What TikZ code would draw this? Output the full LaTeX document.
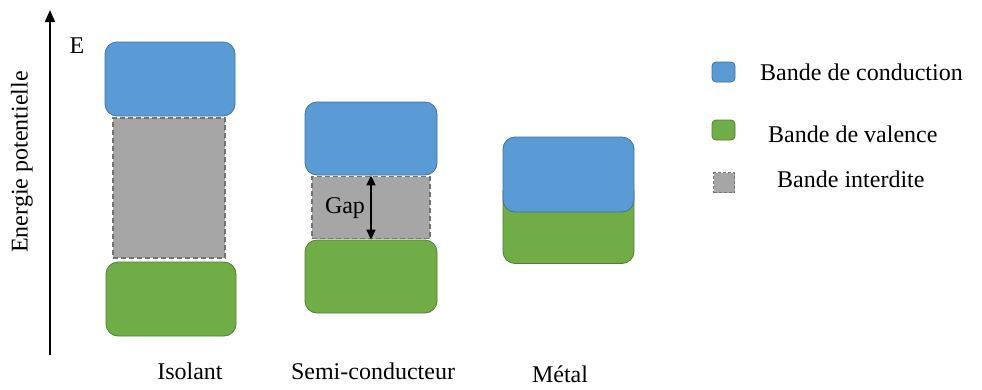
\documentclass[tikz,border=0pt]{standalone}
\usepackage{fontspec}
\setmainfont{Liberation Serif}
\usepackage{tikz}
\usetikzlibrary{arrows}
\usetikzlibrary{arrows.meta}
\usetikzlibrary{positioning}

\definecolor{cbandfill}{RGB}{91,155,213}
\definecolor{cbanddraw}{RGB}{65,113,156}
\definecolor{vbandfill}{RGB}{112,173,71}
\definecolor{vbanddraw}{RGB}{80,126,50}
\definecolor{gbandfill}{RGB}{166,166,166}
\definecolor{gbanddraw}{RGB}{115,115,115}

\begin{document}
\begin{tikzpicture}[x=1pt, y=-1pt,
    font=\fontsize{24}{28}\selectfont,
    band/.style={rectangle, rounded corners=12pt, line width=0.8pt, inner sep=0pt},
    cband/.style={band, fill=cbandfill, draw=cbanddraw},
    vband/.style={band, fill=vbandfill, draw=vbanddraw},
    gband/.style={rectangle, fill=gbandfill, draw=gbanddraw, dash pattern=on 5pt off 3pt, line width=1.2pt, inner sep=0pt},
    legtext/.style={anchor=west, inner sep=0pt}
  ]
  \useasboundingbox (0,0) rectangle (982,389);

  % axe des energies
  \coordinate (axbot) at (50,355);
  \coordinate (axtop) at (50,10);
  \draw[-{Triangle[length=12pt, width=10pt]}, line width=1.8pt] (axbot) -- (axtop);
  \node (elab) at (77,46) {E};
  \node (ylab) [rotate=90] at (22,162) {Energie potentielle};

  % isolant
  \node (ig) [gband, minimum width=112pt, minimum height=140pt] at (169,188) {};
  \node (ic) [cband, minimum width=130pt, minimum height=74pt] at (170,79) {};
  \node (iv) [vband, minimum width=130pt, minimum height=74pt] at (171,299) {};
  \node (ilab) at (190,371) {Isolant};

  % semi-conducteur
  \node (sg) [gband, minimum width=118pt, minimum height=62pt] at (371,207.5) {};
  \node (sc) [cband, minimum width=132pt, minimum height=73pt] at (371,138.5) {};
  \node (sv) [vband, minimum width=132pt, minimum height=73pt] at (371,276.5) {};
  \node (slab) at (373,371) {Semi-conducteur};
  \draw[{Triangle[length=10pt, width=9pt]}-{Triangle[length=10pt, width=9pt]}, line width=1.4pt] (sc.south) -- (sv.north);
  \node (gap) at (345,208) {Gap};

  % metal: bandes qui se recouvrent
  \node (mv) [vband, minimum width=131pt, minimum height=84pt] at (568.5,221.5) {};
  \node (mc) [cband, minimum width=131pt, minimum height=75pt] at (568.5,174.5) {};
  \node (mlab) at (560,374) {Métal};

  % legende
  \node (lc) [cband, rounded corners=4pt, minimum width=23pt, minimum height=20pt] at (723.5,72) {};
  \node (lv) [vband, rounded corners=4pt, minimum width=23pt, minimum height=20pt] at (723.5,130) {};
  \node (lg) [gband, dash pattern=on 3pt off 2pt, minimum width=21pt, minimum height=20pt] at (724,182.5) {};
  \node (lctext) [legtext] at (760,72) {Bande de conduction};
  \node (lvtext) [legtext] at (768,134) {Bande de valence};
  \node (lgtext) [legtext] at (777,179) {Bande interdite};
\end{tikzpicture}
\end{document}
